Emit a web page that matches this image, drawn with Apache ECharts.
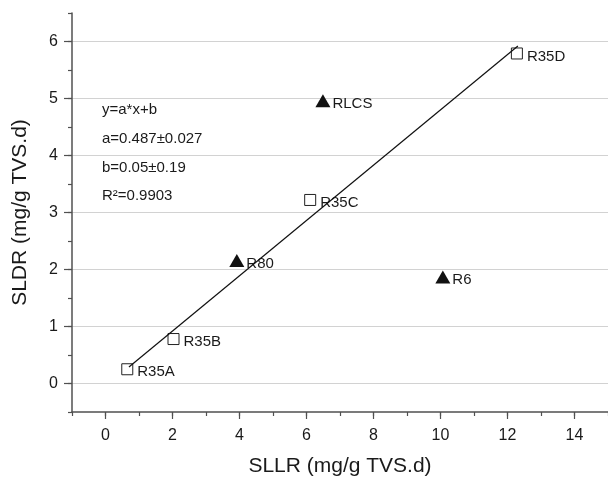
<!DOCTYPE html>
<html>
<head>
<meta charset="utf-8">
<script src="https://cdn.jsdelivr.net/npm/echarts@6/dist/echarts.min.js"></script>
<style>
  html, body { margin: 0; padding: 0; background: #fff; }
  #chart { width: 608px; height: 477px; }
</style>
</head>
<body>
<div id="chart"></div>
<script>
// open squares: R35 series
var squareNames = ['R35A', 'R35B', 'R35C', 'R35D'];
var squareX = [0.65, 2.03, 6.11, 12.28];
var squareY = [0.25, 0.78, 3.22, 5.79];

// filled triangles: other reactors
var triangleNames = ['R80', 'RLCS', 'R6'];
var triangleX = [3.92, 6.49, 10.07];
var triangleY = [2.16, 4.96, 1.87];

// fitted line, as drawn
var fitX = [0.70, 12.31];
var fitY = [0.29, 5.92];

var xMajorTicks = [0, 2, 4, 6, 8, 10, 12, 14];
var yMajorTicks = [0, 1, 2, 3, 4, 5, 6];

var fitText = ['y=a*x+b', 'a=0.487\u00b10.027', 'b=0.05\u00b10.19', 'R\u00b2=0.9903'];

var FONT = 'Liberation Sans, Arial, sans-serif';
var TEXT = '#1a1a1a';
var AXIS = '#505050';

function toItems(names, xs, ys) {
    return names.map(function (n, i) {
        return { name: n, value: [xs[i], ys[i]] };
    });
}

var pointLabel = {
    show: true,
    position: 'right',
    formatter: '{b}',
    fontSize: 15,
    fontFamily: FONT,
    color: TEXT,
    opacity: 1,
    offset: [0, 3]
};

var chart = echarts.init(document.getElementById('chart'));

chart.setOption({
    animation: false,
    backgroundColor: '#fff',
    grid: { left: 72, right: 0, top: 13, bottom: 65, outerBoundsMode: 'none', containLabel: false },
    xAxis: [
        {   // minor ticks at every integer, carries the data
            type: 'value', position: 'bottom', min: -1, max: 15, interval: 1,
            axisLine: { onZero: false, lineStyle: { color: AXIS, width: 1.5 } },
            axisTick: { inside: false, length: 4, lineStyle: { color: AXIS, width: 1.2 } },
            axisLabel: { show: false },
            splitLine: { show: false }
        },
        {   // major ticks and labels
            type: 'value', position: 'bottom', min: -1, max: 15,
            axisLine: { show: false, onZero: false },
            axisTick: { customValues: xMajorTicks, length: 7, lineStyle: { color: AXIS, width: 1.2 } },
            axisLabel: { customValues: xMajorTicks, fontSize: 16, fontFamily: FONT, color: TEXT, margin: 16 },
            splitLine: { show: false },
            name: 'SLLR (mg/g TVS.d)',
            nameLocation: 'middle',
            nameGap: 44,
            nameTextStyle: { fontSize: 21, fontFamily: FONT, color: TEXT }
        }
    ],
    yAxis: [
        {
            type: 'value', position: 'left', min: -0.5, max: 6.5, interval: 0.5,
            axisLine: { onZero: false, lineStyle: { color: AXIS, width: 1.5 } },
            axisTick: { length: 4, lineStyle: { color: AXIS, width: 1.2 } },
            axisLabel: { show: false },
            // only the integer lines are visible
            splitLine: { show: true, lineStyle: { color: ['rgba(0,0,0,0)', '#d2d2d2'], width: 1 } }
        },
        {
            type: 'value', position: 'left', min: -0.5, max: 6.5,
            axisLine: { show: false, onZero: false },
            axisTick: { customValues: yMajorTicks, length: 8, lineStyle: { color: AXIS, width: 1.2 } },
            axisLabel: { customValues: yMajorTicks, fontSize: 16, fontFamily: FONT, color: TEXT, margin: 14 },
            splitLine: { show: false },
            name: 'SLDR (mg/g TVS.d)',
            nameLocation: 'middle',
            nameGap: 41,
            nameTextStyle: { fontSize: 21, fontFamily: FONT, color: TEXT }
        }
    ],
    graphic: fitText.map(function (t, i) {
        return {
            type: 'text',
            x: 102,
            y: 110 + i * 28.7,
            style: { text: t, fontSize: 15, fontFamily: FONT, fill: TEXT, verticalAlign: 'middle' }
        };
    }),
    series: [
        {
            type: 'line',
            data: fitX.map(function (x, i) { return [x, fitY[i]]; }),
            showSymbol: false,
            symbol: 'none',
            lineStyle: { color: '#111', width: 1.2 },
            z: 3
        },
        {
            type: 'scatter',
            data: toItems(squareNames, squareX, squareY),
            symbol: 'rect',
            symbolSize: 11,
            itemStyle: { color: 'rgba(0,0,0,0)', borderColor: '#222', borderWidth: 1, opacity: 1 },
            label: Object.assign({ distance: 4 }, pointLabel),
            z: 2
        },
        {
            type: 'scatter',
            data: toItems(triangleNames, triangleX, triangleY),
            symbol: 'triangle',
            symbolSize: [15, 13],
            itemStyle: { color: '#111', opacity: 1 },
            label: Object.assign({ distance: 2 }, pointLabel),
            z: 2
        }
    ]
});
</script>
</body>
</html>
